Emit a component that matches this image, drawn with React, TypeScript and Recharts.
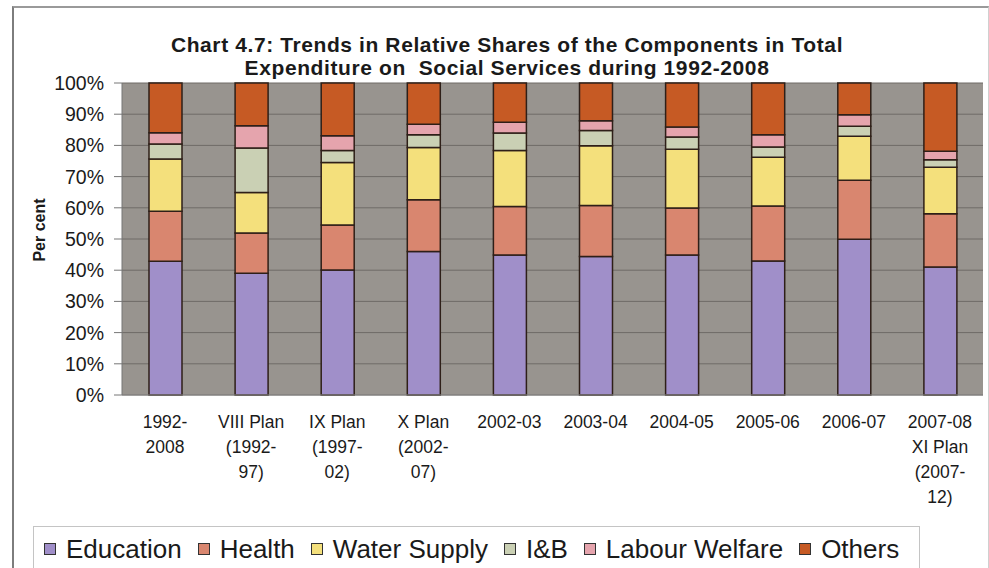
import React from 'react';
import { BarChart, Bar, XAxis, YAxis, CartesianGrid, Legend, Label } from 'recharts';

const categories = [
  '1992-\n2008',
  'VIII Plan\n(1992-\n97)',
  'IX Plan\n(1997-\n02)',
  'X Plan\n(2002-\n07)',
  '2002-03',
  '2003-04',
  '2004-05',
  '2005-06',
  '2006-07',
  '2007-08\nXI Plan\n(2007-\n12)',
];
const education = [42.8, 39.0, 40.1, 46.0, 44.9, 44.4, 44.9, 43.0, 49.9, 41.0];
const health = [16.0, 12.9, 14.4, 16.6, 15.5, 16.3, 15.0, 17.6, 18.9, 17.1];
const waterSupply = [16.8, 13.0, 20.0, 16.7, 18.0, 19.2, 18.9, 15.7, 14.1, 14.9];
const ib = [4.8, 14.3, 3.9, 4.1, 5.6, 4.9, 3.9, 3.3, 3.2, 2.4];
const labourWelfare = [3.6, 7.1, 4.7, 3.4, 3.4, 3.1, 3.2, 3.9, 3.7, 2.7];
const others = [15.9, 13.7, 16.9, 13.2, 12.6, 12.1, 14.1, 16.6, 10.2, 21.9];
const yTicks = [0, 0.1, 0.2, 0.3, 0.4, 0.5, 0.6, 0.7, 0.8, 0.9, 1];
const boundaryTicks = [0, 1, 2, 3, 4, 5, 6, 7, 8, 9, 10];

const seriesNames = ['Education', 'Health', 'Water Supply', 'I&B', 'Labour Welfare', 'Others'];
const seriesColors = ['#a08fc9', '#d9866f', '#f4e07c', '#cad0b4', '#e5a4ad', '#c65a24'];
const seriesValues = [education, health, waterSupply, ib, labourWelfare, others];

const data = categories.map((c, i) => {
  const row: Record<string, string | number> = { category: c };
  seriesNames.forEach((n, k) => {
    row[n] = seriesValues[k][i];
  });
  return row;
});

const FONT = '"Liberation Sans", Arial, sans-serif';

const XTick = (props: any) => {
  const { x, y, payload } = props;
  const lines = String(payload.value).split('\n');
  return (
    <text x={x} y={y} textAnchor="middle" fontSize={17.5} fill="#1a1a1a" fontFamily={FONT}>
      {lines.map((l, i) => (
        <tspan key={i} x={x} dy={25}>
          {l}
        </tspan>
      ))}
    </text>
  );
};

const EmptyTick = () => <g />;

const LegendContent = () => (
  <div
    style={{
      boxSizing: 'border-box',
      width: 887,
      height: 46,
      border: '1px solid #c4c4c4',
      display: 'flex',
      flexWrap: 'nowrap',
      alignItems: 'center',
      paddingLeft: 10,
      fontFamily: FONT,
      fontSize: 26,
      color: '#1a1a1a',
      background: '#fff',
      whiteSpace: 'nowrap',
      overflow: 'hidden',
    }}
  >
    {seriesNames.map((n, k) => (
      <div key={n} style={{ display: 'flex', alignItems: 'center', marginRight: 16, flexShrink: 0 }}>
        <span
          style={{
            display: 'inline-block',
            boxSizing: 'border-box',
            width: 12,
            height: 12,
            background: seriesColors[k],
            border: '1.5px solid #333',
            marginRight: 10,
            flexShrink: 0,
          }}
        />
        <span style={{ whiteSpace: 'nowrap' }}>{n}</span>
      </div>
    ))}
  </div>
);

export default function App() {
  return (
    <div style={{ position: 'absolute', left: 0, top: 0, width: 989, height: 568, background: '#fff', overflow: 'hidden' }}>
      <div
        style={{
          position: 'absolute',
          left: 12,
          top: 6,
          width: 974,
          height: 600,
          borderLeft: '2px solid #7d7d7d',
          borderTop: '2px solid #9a9a9a',
          borderRight: '1px solid #d0d0d0',
        }}
      />
      <div
        style={{
          position: 'absolute',
          left: 57,
          width: 900,
          top: 33,
          textAlign: 'center',
          fontFamily: FONT,
          fontWeight: 'bold',
          fontSize: 21,
          letterSpacing: 0.6,
          lineHeight: '23px',
          color: '#1a1a1a',
        }}
      >
        Chart 4.7: Trends in Relative Shares of the Components in Total
        <br />
        Expenditure on&nbsp; Social Services during 1992-2008
      </div>
      <BarChart
        width={989}
        height={568}
        data={data}
        stackOffset="expand"
        margin={{ top: 83, right: 6, left: 0, bottom: 0 }}
        barSize={33}
        style={{ position: 'absolute', left: 0, top: 0 }}
      >
        <CartesianGrid vertical={false} stroke="#6f6b67" strokeWidth={1} fill="#98948f" />
        <XAxis
          xAxisId="bounds"
          type="number"
          domain={[0, 10]}
          ticks={boundaryTicks}
          height={0}
          tick={<EmptyTick />}
          tickSize={5}
          tickLine={{ stroke: '#9a9a9a' }}
          axisLine={false}
          interval={0}
        />
        <XAxis
          dataKey="category"
          height={127}
          tick={<XTick />}
          tickLine={false}
          axisLine={{ stroke: '#8a8a8a' }}
          interval={0}
        />
        <YAxis
          width={122}
          domain={[0, 1]}
          ticks={yTicks}
          tickFormatter={(v: number) => `${Math.round(v * 100)}%`}
          tick={{ fontSize: 19.5, fill: '#1a1a1a', fontFamily: FONT }}
          tickSize={8}
          tickMargin={10}
          tickLine={{ stroke: '#777' }}
          axisLine={{ stroke: '#777' }}
          interval={0}
        >
          <Label
            content={() => (
              <text
                x={39}
                y={230}
                transform="rotate(-90 39 230)"
                textAnchor="middle"
                dominantBaseline="central"
                fontSize={16}
                fontWeight="bold"
                fontFamily={FONT}
                fill="#1a1a1a"
              >
                Per cent
              </text>
            )}
          />
        </YAxis>
        <Legend
          verticalAlign="bottom"
          content={<LegendContent />}
          wrapperStyle={{ left: 33, top: 526, bottom: 'auto', width: 887 }}
        />
        {seriesNames.map((n, k) => (
          <Bar
            key={n}
            dataKey={n}
            stackId="a"
            fill={seriesColors[k]}
            stroke="#2e1f18"
            strokeWidth={1.5}
            isAnimationActive={false}
          />
        ))}
      </BarChart>
    </div>
  );
}
